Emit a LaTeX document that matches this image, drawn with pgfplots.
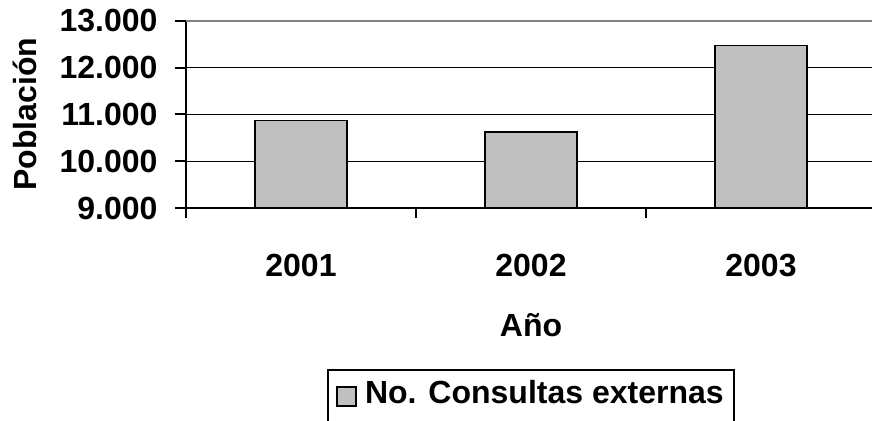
\documentclass[border=0pt]{standalone}
\usepackage{fontspec}
\setmainfont{Liberation Sans}
\usepackage{pgfplots}
\pgfplotsset{compat=1.18}
\definecolor{barfill}{HTML}{C0C0C0}
\newcommand\lbl{\fontsize{32}{38}\selectfont\bfseries}
\begin{document}
\begin{tikzpicture}
\begin{axis}[
  scale only axis,
  width=690pt, height=187.3pt,
  xmin=-0.5, xmax=2.5,
  ymin=9000, ymax=13000,
  scaled y ticks=false,
  axis x line=bottom, axis y line=left,
  axis line style={-, line width=2pt, black},
  ybar, bar width=92pt, bar shift=0pt,
  xtick={0,1,2},
  xticklabels={2001,2002,2003},
  major x tick style={draw=none},
  minor xtick={-0.5,0.5,1.5},
  minor x tick style={line width=2pt, black},
  minor tick length=10pt,
  ytick={9000,10000,11000,12000},
  yticklabels={9.000,10.000,11.000,12.000},
  extra y ticks={13000},
  extra y tick labels={13.000},
  extra y tick style={major grid style={draw=gray, line width=2pt}},
  y tick style={line width=2pt, black},
  major tick length=11pt,
  tick align=outside,
  ymajorgrids,
  major grid style={black, line width=1.2pt},
  tick label style={font=\lbl},
  xticklabel style={yshift=-32pt},
  yticklabel style={xshift=-14pt},
  label style={font=\lbl},
  xlabel={Año},
  xlabel style={at={(axis description cs:0.5,-0.625)}, anchor=center},
  ylabel={Población},
  ylabel style={at={(axis description cs:-0.2333,0.5)}, anchor=center, rotate=0},
  legend cell align={left},
  legend style={at={(axis description cs:0.5,-0.86)}, anchor=north,
    font=\lbl, draw=black, line width=2pt, inner xsep=8pt, inner ysep=8pt,
    cells={anchor=base west}},
  legend image code/.code={\draw[fill=barfill, draw=black, line width=1.6pt] (0pt,-3pt) rectangle (19pt,16pt); \path (25pt,0pt) (0pt,-45pt);},
]
\addplot[fill=barfill, draw=black, line width=1.8pt] coordinates {(0,10870) (1,10620) (2,12470)};
\addlegendentry{No. Consultas externas}
\end{axis}
\pgfresetboundingbox
\path[use as bounding box] (-186pt,-212pt) rectangle (686pt,208pt);
\end{tikzpicture}
\end{document}
